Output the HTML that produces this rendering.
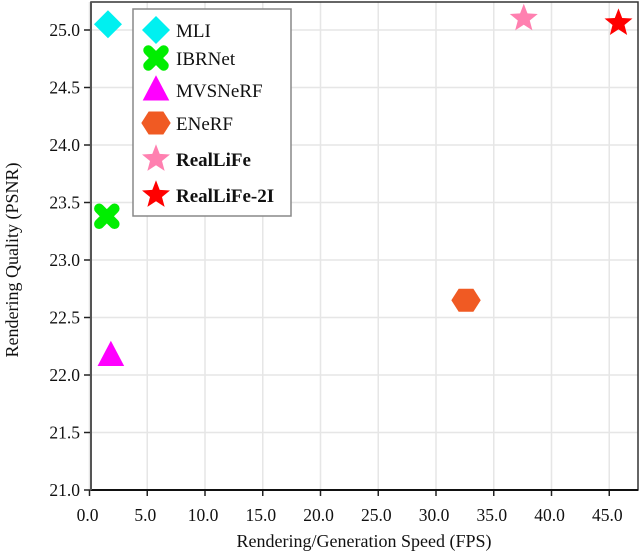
<!DOCTYPE html>
<html><head><meta charset="utf-8"><style>
body{margin:0;background:#fff;}
svg{display:block;font-family:"Liberation Serif",serif;}
</style></head><body>
<svg id="chart" width="640" height="556"></svg>
<script>
const methods=["MLI","IBRNet","MVSNeRF","ENeRF","RealLiFe","RealLiFe-2I"];
const fpsValues=[1.6,1.5,1.85,32.6,37.6,45.8];
const psnrValues=[25.05,23.38,22.17,22.65,25.1,25.06];
const colors=["#00f0f0","#00ee00","#ff00ff","#f05a23","#ff80b0","#ff0000"];
const shapes=["diamond","cross","triangle","hexagon","star","star"];
const boldLabels=[false,false,false,false,true,true];
const xTicks=[0,5,10,15,20,25,30,35,40,45];
const yTicks=[21.0,21.5,22.0,22.5,23.0,23.5,24.0,24.5,25.0];

const NS="http://www.w3.org/2000/svg";
const svg=document.getElementById('chart');
const L=91,R=638,T=2,B=490;
const X=v=>89.5+11.55*v;
const Y=v=>30+115*(25-v);
function el(t,a,p){const e=document.createElementNS(NS,t);for(const k in a)e.setAttribute(k,a[k]);(p||svg).appendChild(e);return e;}

xTicks.forEach(v=>{
  const g=el('line',{x1:X(v),x2:X(v),y1:T,y2:B,stroke:'#e6e6e6','stroke-width':1.5});
  
  
  const tk=el('line',{x1:X(v),x2:X(v),y1:B,y2:B+6,stroke:'#222','stroke-width':1.5});
  
  
  const t=el('text',{x:X(v)-2,y:521,'text-anchor':'middle','font-size':17.5,fill:'#111'});
  t.textContent=v.toFixed(1);
  
  
});
yTicks.forEach(v=>{
  const g=el('line',{x1:L,x2:R,y1:Y(v),y2:Y(v),stroke:'#e6e6e6','stroke-width':1.5});
  
  
  const tk=el('line',{x1:L-7,x2:L,y1:Y(v),y2:Y(v),stroke:'#222','stroke-width':1.5});
  
  
  const t=el('text',{x:L-11,y:Y(v)+6,'text-anchor':'end','font-size':17.5,fill:'#111'});
  t.textContent=v.toFixed(1);
  
  
});
const fr=el('rect',{x:L,y:T,width:R-L,height:B-T,fill:'none',stroke:'#333','stroke-width':1.5});


const xa=el('line',{x1:L,x2:R,y1:B,y2:B,stroke:'#111','stroke-width':2});


const ya=el('line',{x1:L,x2:L,y1:T,y2:B,stroke:'#555','stroke-width':2});



function marker(shape,cx,cy,s,color,parent){
  let e;
  if(shape==='diamond'){e=el('polygon',{points:`${cx},${cy-s} ${cx+s},${cy} ${cx},${cy+s} ${cx-s},${cy}`,fill:color},parent);}
  else if(shape==='cross'){const a=s*0.55;e=el('path',{d:`M${cx-a},${cy-a}L${cx+a},${cy+a}M${cx+a},${cy-a}L${cx-a},${cy+a}`,stroke:color,'stroke-width':s*0.72,'stroke-linecap':'round',fill:'none'},parent);}
  else if(shape==='triangle'){e=el('polygon',{points:`${cx},${cy-s*1.05} ${cx+s*0.95},${cy+s*0.75} ${cx-s*0.95},${cy+s*0.75}`,fill:color},parent);}
  else if(shape==='hexagon'){let p=[];for(let i=0;i<6;i++){const a=Math.PI/3*i;p.push((cx+s*1.05*Math.cos(a))+','+(cy+s*0.95*Math.sin(a)));}e=el('polygon',{points:p.join(' '),fill:color},parent);}
  else{let p=[];for(let i=0;i<10;i++){const r=i%2?s*0.45:s*1.05;const a=-Math.PI/2+Math.PI/5*i;p.push((cx+r*Math.cos(a))+','+(cy+r*Math.sin(a)));}e=el('polygon',{points:p.join(' '),fill:color},parent);}
  return e;
}
methods.forEach((m,i)=>{
  const e=marker(shapes[i],X(fpsValues[i]),Y(psnrValues[i]),14,colors[i]);
  
  
});

const lg=el('g',{});


const lb=el('rect',{x:133,y:9,width:158,height:207,fill:'#fff',stroke:'#888','stroke-width':1.5},lg);


const rowY=[30,58,90,123,159,195];
methods.forEach((m,i)=>{
  const g=el('g',{},lg);
  
  
  marker(shapes[i],156,rowY[i],14,colors[i],g);
  const t=el('text',{x:176,y:rowY[i]+7,'font-size':19,fill:'#111','font-weight':boldLabels[i]?'bold':'normal'},g);
  t.textContent=m;
});

const xt=el('text',{x:364,y:547,'text-anchor':'middle','font-size':18,fill:'#111'});
xt.textContent='Rendering/Generation Speed (FPS)';


const yt=el('text',{x:0,y:0,'text-anchor':'middle','font-size':18,fill:'#111',transform:'translate(18,260) rotate(-90)'});
yt.textContent='Rendering Quality (PSNR)';


</script>
</body></html>
